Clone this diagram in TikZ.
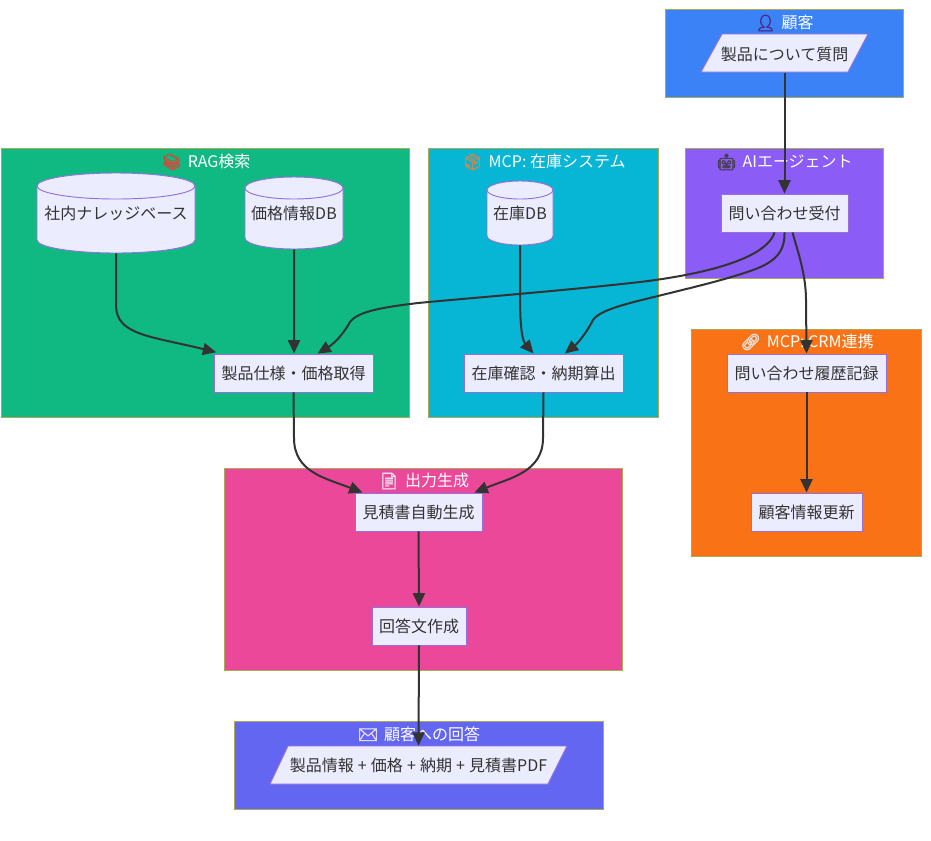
\documentclass[tikz,border=0pt]{standalone}
\usepackage{fontspec}
\setmainfont{Noto Sans CJK JP}
\newfontfamily\emojifont[FakeBold=3]{Noto Emoji}
\usetikzlibrary{arrows.meta}
\definecolor{nodefill}{HTML}{ECECFF}
\definecolor{nodeline}{HTML}{9370DB}
\definecolor{edgecol}{HTML}{333333}
\definecolor{groupline}{HTML}{AAAA55}
\definecolor{cblue}{HTML}{3B82F6}
\definecolor{cpurple}{HTML}{8B5CF6}
\definecolor{cgreen}{HTML}{10B981}
\definecolor{ccyan}{HTML}{06B6D4}
\definecolor{corange}{HTML}{F97316}
\definecolor{cpink}{HTML}{EC4899}
\definecolor{cindigo}{HTML}{6366F1}
\definecolor{ebust}{HTML}{4C2A85}
\definecolor{erobot}{HTML}{4A3F55}
\definecolor{ebooks}{HTML}{C8503C}
\definecolor{ebox}{HTML}{C08A5A}
\definecolor{elink}{HTML}{E8DCD8}
\definecolor{edoc}{HTML}{EDE3F3}
\definecolor{email}{HTML}{E6D8EC}
\tikzset{
  x=0.75pt,y=-0.75pt,
  groupbox/.style={draw=groupline,line width=0.7pt},
  grouptitle/.style={text=white,font=\fontsize{12}{14}\selectfont,inner sep=0pt,anchor=center},
  procbox/.style={draw=nodeline,fill=nodefill,line width=0.7pt,inner sep=0pt,text=edgecol,font=\fontsize{12}{14}\selectfont,anchor=center},
  ghostbox/.style={inner sep=0pt,text=edgecol,font=\fontsize{12}{14}\selectfont,anchor=center},
  shapefill/.style={draw=nodeline,fill=nodefill,line width=0.7pt},
  flow/.style={draw=edgecol,line width=1.5pt,-{Triangle[length=10pt,width=9pt]}},
}
\newcommand{\emo}[2]{\textcolor{#1}{\emojifont #2}\hspace{4.5pt}}
% name, cx, top, bottom, rx, ry, text
\newcommand{\dbnode}[7]{%
  \path[shapefill] (#2-#5,#3+#6) -- (#2-#5,#4-#6) arc[x radius=#5*0.75pt,y radius=#6*0.75pt,start angle=180,end angle=360] -- (#2+#5,#3+#6) arc[x radius=#5*0.75pt,y radius=#6*0.75pt,start angle=0,end angle=180] -- cycle;
  \draw[nodeline,line width=0.7pt] (#2-#5,#3+#6) arc[x radius=#5*0.75pt,y radius=#6*0.75pt,start angle=180,end angle=360];
  \node[ghostbox,minimum width=#5*1.5pt,minimum height=(#4-#3)*0.75pt] (#1) at (#2,{(#3+#4)/2}) {#7};
}
\newcommand{\plus}{\hspace{3.1pt}+\hspace{3.1pt}}
\begin{document}
\begin{tikzpicture}
\useasboundingbox[fill=white] (0,0) rectangle (931,840);
% groups
\draw[groupbox,fill=cblue] (665.5,9) rectangle (903,97);
\draw[groupbox,fill=cpurple] (685.5,148) rectangle (883,278);
\draw[groupbox,fill=cgreen] (1.5,148) rectangle (409,417);
\draw[groupbox,fill=ccyan] (428.5,148) rectangle (658,417);
\draw[groupbox,fill=corange] (691.5,329) rectangle (921,556);
\draw[groupbox,fill=cpink] (224.5,468) rectangle (622,670);
\draw[groupbox,fill=cindigo] (234.5,721) rectangle (603,809);
% titles
\node[grouptitle] (t1) at (784.5,23) {\emo{ebust}{👤}顧客};
\node[grouptitle] (t2) at (784.5,162) {\emo{erobot}{🤖}AIエージェント};
\node[grouptitle] (t3) at (206,162) {\emo{ebooks}{📚}RAG検索};
\node[grouptitle] (t4) at (544,162) {\emo{ebox}{📦}MCP: 在庫システム};
\node[grouptitle] (t5) at (807,342) {\emo{elink}{🔗}MCP: CRM連携};
\node[grouptitle] (t6) at (424,481) {\emo{edoc}{📄}出力生成};
\node[grouptitle] (t7) at (419,734) {\emo{email}{✉}顧客への回答};
% parallelograms
\path[shapefill] (722,34) -- (868,34) -- (848,72) -- (701,72) -- cycle;
\node[ghostbox,minimum width=147pt*0.75,minimum height=28.5pt] (ask) at (784.5,54) {製品について質問};
\path[shapefill] (288,746) -- (567,746) -- (548,784) -- (270,784) -- cycle;
\node[ghostbox,minimum width=278pt*0.75,minimum height=28.5pt] (reply) at (418.5,765) {製品情報\plus 価格\plus 納期\plus 見積書PDF};
% process nodes
\node[procbox,minimum width=95.25pt,minimum height=28.5pt] (recv) at (784.5,213) {問い合わせ受付};
\node[procbox,minimum width=119.25pt,minimum height=28.5pt] (spec) at (293.5,373) {製品仕様・価格取得};
\node[procbox,minimum width=119.25pt,minimum height=28.5pt] (stock) at (543.5,373) {在庫確認・納期算出};
\node[procbox,minimum width=119.25pt,minimum height=28.5pt] (hist) at (806.5,373) {問い合わせ履歴記録};
\node[procbox,minimum width=83.25pt,minimum height=28.5pt] (upd) at (806.5,512) {顧客情報更新};
\node[procbox,minimum width=95.25pt,minimum height=28.5pt] (quote) at (418.5,512) {見積書自動生成};
\node[procbox,minimum width=70.5pt,minimum height=28.5pt] (ans) at (419,626) {回答文作成};
% databases
\dbnode{kb}{116}{173}{253}{79}{13}{社内ナレッジベース}
\dbnode{price}{294}{177}{249}{49}{11}{価格情報DB}
\dbnode{invdb}{520}{181}{245}{33}{9}{在庫DB}
% edges
\draw[flow] (ask.south) -- (recv.north);
\draw[flow] ([xshift=-7.5pt]recv.south) .. controls (765,262) and (690,276) .. (640,282)
  .. controls (560,291) and (470,298) .. (418,303)
  .. controls (385,307) and (358,311) .. (350,322)
  .. controls (344,333) and (335,343) .. ([xshift=18pt]spec.north);
\draw[flow] ([xshift=0pt]recv.south) .. controls (785,252) and (775,262) .. (753,270)
  .. controls (725,280) and (690,288) .. (658,296)
  .. controls (625,304) and (600,310) .. (593,320)
  .. controls (587,332) and (578,343) .. ([xshift=16pt]stock.north);
\draw[flow] ([xshift=6pt]recv.south) .. controls (798,252) and (806,275) .. (806,300) -- (hist.north);
\draw[flow] (hist.south) -- (upd.north);
\draw[flow] (kb.south) -- (116,305) .. controls (116,335) and (150,336) .. ([xshift=-58pt,yshift=1pt]spec.north);
\draw[flow] (price.south) -- ([xshift=0.4pt]spec.north);
\draw[flow] (invdb.south) -- (520,295) .. controls (520,325) and (522,340) .. ([xshift=-7.5pt]stock.north);
\draw[flow] (spec.south) -- (294,438) .. controls (294,472) and (325,478) .. ([xshift=-42pt]quote.north);
\draw[flow] (stock.south) -- (543,438) .. controls (543,472) and (510,478) .. ([xshift=42pt]quote.north);
\draw[flow] (quote.south) -- (ans.north);
\draw[flow] (ans.south) -- (reply.north);
\end{tikzpicture}
\end{document}
